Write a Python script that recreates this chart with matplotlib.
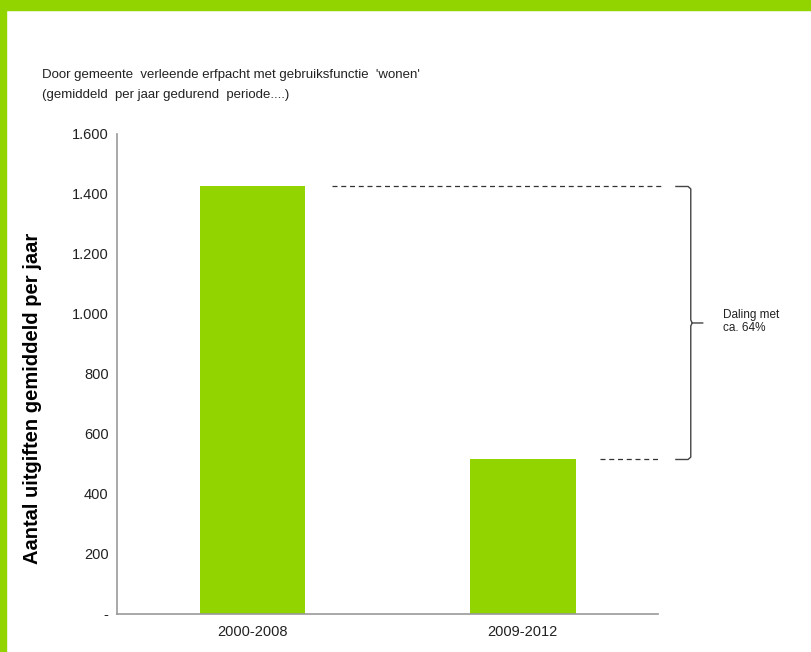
import matplotlib
matplotlib.use('Agg')
import matplotlib.pyplot as plt
from matplotlib.patches import Rectangle

periods = ['2000-2008', '2009-2012']
uitgiften = [1425, 515]
y_ticks = [0, 200, 400, 600, 800, 1000, 1200, 1400, 1600]
y_tick_labels = ['-', '200', '400', '600', '800', '1.000', '1.200', '1.400', '1.600']

green = '#92d400'
plt.rcParams['font.family'] = ['Liberation Sans', 'DejaVu Sans']

fig = plt.figure(figsize=(8.12, 6.52), dpi=100)
fig.patches.append(Rectangle((0, 1 - 10 / 652), 1, 10 / 652, transform=fig.transFigure,
                             color=green, zorder=0))
fig.patches.append(Rectangle((0, 0), 6 / 812, 1, transform=fig.transFigure,
                             color=green, zorder=0))

ax = fig.add_axes([0.1441, 0.0583, 0.6663, 0.7362])
x = range(len(periods))
ax.bar(x, uitgiften, width=0.39, color=green)

ax.set_xlim(-0.5, 1.5)
ax.set_ylim(0, 1600)
ax.set_xticks(list(x))
ax.set_xticklabels(periods, fontsize=10.5, color='#222222')
ax.set_yticks(y_ticks)
ax.set_yticklabels(y_tick_labels, fontsize=10.5, color='#222222')
ax.tick_params(length=0, pad=6)
ax.tick_params(axis='x', pad=8)
for s in ['top', 'right']:
    ax.spines[s].set_visible(False)
for s in ['left', 'bottom']:
    ax.spines[s].set_color('#999999')
    ax.spines[s].set_linewidth(1.2)

fig.text(33 / 812, 1 - 398 / 652, 'Aantal uitgiften gemiddeld per jaar', fontsize=14.5,
         fontweight='bold', rotation=90, va='center', ha='center')

# dashed guide lines
ax.plot([0.293, 1.518], [uitgiften[0]] * 2, ls=(0, (4, 3)), color='#333333', lw=0.9,
        clip_on=False)
ax.plot([1.284, 1.499], [uitgiften[1]] * 2, ls=(0, (4, 3)), color='#333333', lw=0.9,
        clip_on=False)

# brace
top, bot = uitgiften[0], uitgiften[1]
mid = (top + bot) / 2
bx = 1.621
ax.plot([1.566, bx - 0.01, bx, bx, bx + 0.005, 1.665], [top, top, top - 8, mid + 10, mid, mid],
        color='#444444', lw=1, clip_on=False)
ax.plot([1.566, bx - 0.01, bx, bx, bx + 0.005], [bot, bot, bot + 8, mid - 10, mid],
        color='#444444', lw=1, clip_on=False)
ax.text(1.74, mid + 5, 'Daling met\nca. 64%', fontsize=8.5, va='center', ha='left',
        color='#222222', linespacing=1.1)

fig.text(42 / 812, 1 - 85 / 652,
         "Door gemeente  verleende erfpacht met gebruiksfunctie  'wonen'\n"
         "(gemiddeld  per jaar gedurend  periode....)",
         fontsize=9.5, va='center', ha='left', color='#222222', linespacing=1.85)

fig.savefig('out.png', dpi=100, facecolor='white')
